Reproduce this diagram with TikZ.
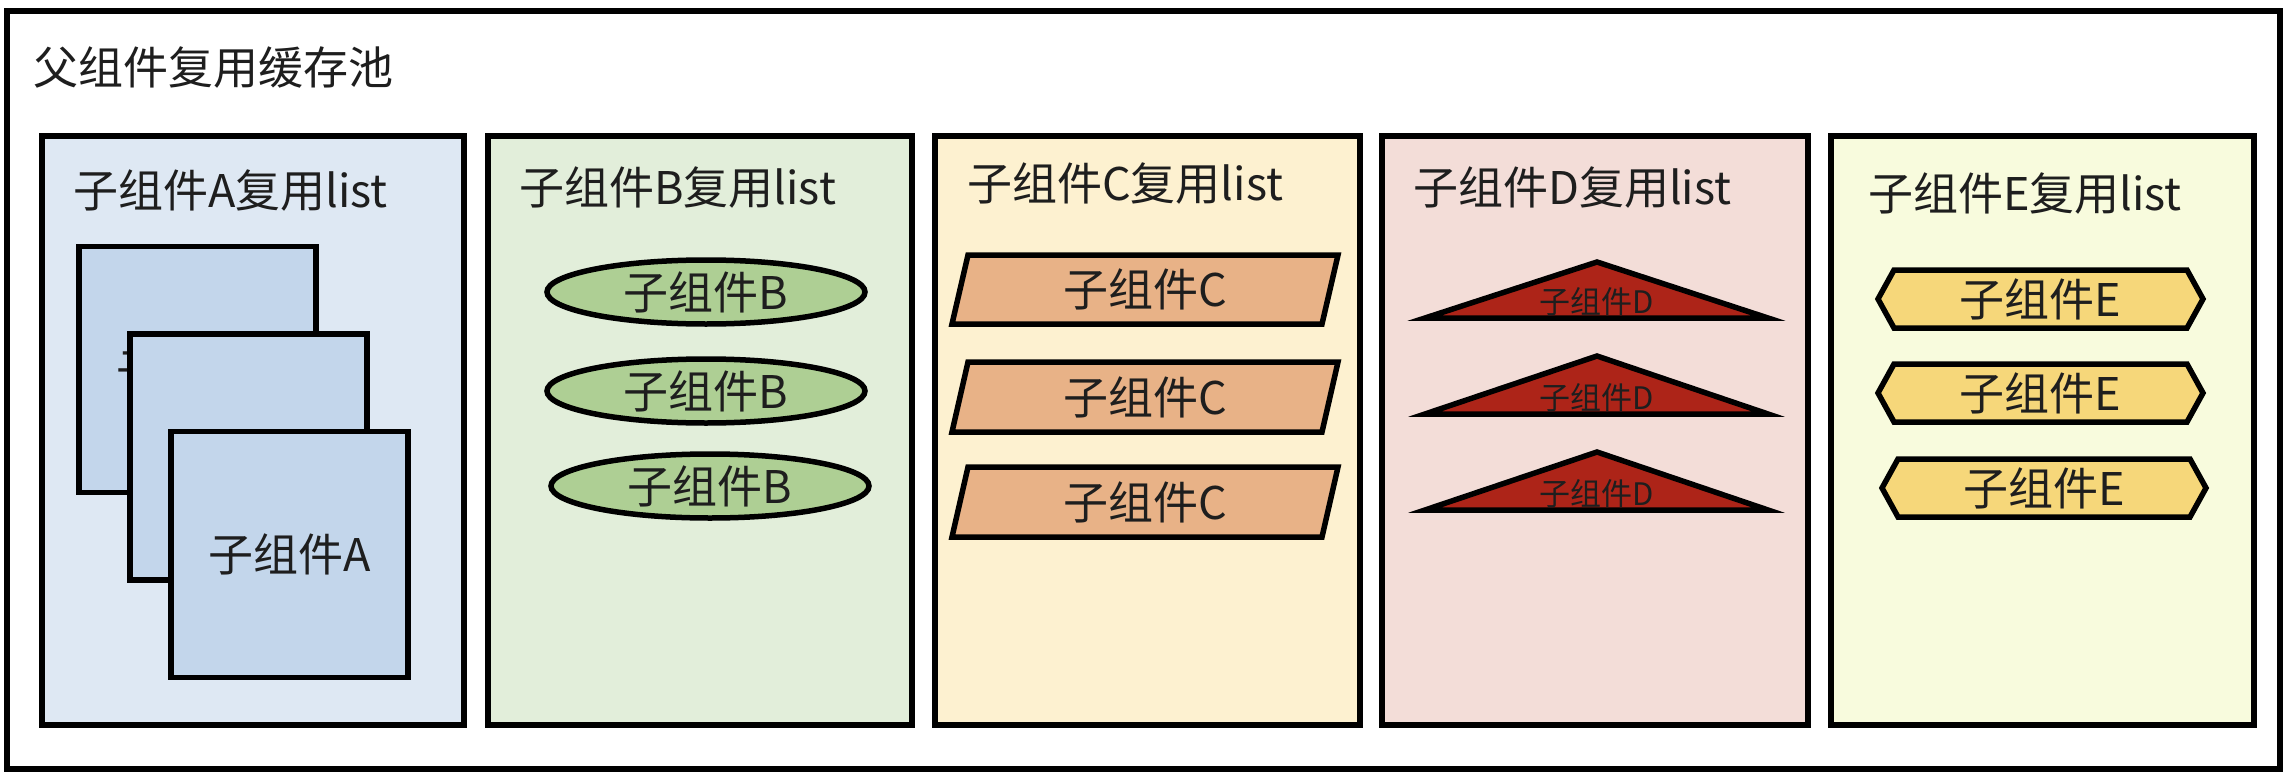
\documentclass[tikz,border=0pt]{standalone}
\usepackage{fontspec}
\setmainfont{Noto Sans CJK SC}
\usetikzlibrary{shapes.geometric}
\definecolor{txt}{HTML}{1E1E1E}
\definecolor{pA}{HTML}{DEE8F3}
\definecolor{pB}{HTML}{E2EEDA}
\definecolor{pC}{HTML}{FDF1D0}
\definecolor{pD}{HTML}{F3DDD8}
\definecolor{pE}{HTML}{F8FBDD}
\definecolor{fA}{HTML}{C3D6EB}
\definecolor{fB}{HTML}{AECF94}
\definecolor{fC}{HTML}{E8B287}
\definecolor{fD}{HTML}{AD2418}
\definecolor{fE}{HTML}{F6D77A}
\begin{document}
\begin{tikzpicture}[x=1pt,y=-1pt,
  frame/.style={draw=black,line width=6.5pt},
  panel/.style={draw=black,line width=6.5pt},
  item/.style={draw=black,line width=5.5pt,line join=miter},
  lbl/.style={font=\fontsize{45}{50}\selectfont,text=txt,inner sep=0pt},
  small/.style={font=\fontsize{31}{34}\selectfont,text=txt,inner sep=0pt}]
\useasboundingbox (0,0) rectangle (2286,776);
\fill[white] (0,0) rectangle (2286,776);
\draw[frame] (7,11) rectangle (2280,769);
\node[lbl,anchor=west] (title) at (33,68) {父组件复用缓存池};

% panels
\draw[panel,fill=pA] (42,136) rectangle (464,725);
\draw[panel,fill=pB] (488,136) rectangle (912,725);
\draw[panel,fill=pC] (935,136) rectangle (1360,725);
\draw[panel,fill=pD] (1382,136) rectangle (1808,725);
\draw[panel,fill=pE] (1831,136) rectangle (2254,725);

\node[lbl,anchor=west] (ta) at (73,191) {子组件A复用list};
\node[lbl,anchor=west] (tb) at (519,188) {子组件B复用list};
\node[lbl,anchor=west] (tc) at (967,184) {子组件C复用list};
\node[lbl,anchor=west] (td) at (1413,188) {子组件D复用list};
\node[lbl,anchor=west] (te) at (1868,194) {子组件E复用list};

% A squares
\node[item,fill=fA,minimum width=237,minimum height=246,lbl] (a1) at (197.5,369.5) {子组件A};
\node[item,fill=fA,minimum width=237,minimum height=246,lbl] (a2) at (248.5,457) {子组件A};
\node[item,fill=fA,minimum width=237,minimum height=246,lbl] (a3) at (289.5,554.5) {子组件A};

% B ellipses
\node[item,ellipse,fill=fB,minimum width=318,minimum height=64,lbl] (b1) at (706,292) {子组件B};
\node[item,ellipse,fill=fB,minimum width=318,minimum height=64,lbl] (b2) at (706,391) {子组件B};
\node[item,ellipse,fill=fB,minimum width=318,minimum height=64,lbl] (b3) at (710,486) {子组件B};

% C parallelograms
\draw[item,fill=fC] (952,324) -- (968,255) -- (1338,255) -- (1322,324) -- cycle;
\node[lbl] (c1) at (1145,289.5) {子组件C};
\draw[item,fill=fC] (952,432) -- (968,362) -- (1338,362) -- (1322,432) -- cycle;
\node[lbl] (c2) at (1145,397) {子组件C};
\draw[item,fill=fC] (952,537) -- (968,467) -- (1338,467) -- (1322,537) -- cycle;
\node[lbl] (c3) at (1145,502) {子组件C};

% D triangles
\draw[item,fill=fD] (1425,318) -- (1597,262) -- (1768,318) -- cycle;
\node[small] (d1) at (1597,302) {子组件D};
\draw[item,fill=fD] (1425,414) -- (1597,356) -- (1768,414) -- cycle;
\node[small] (d2) at (1597,398) {子组件D};
\draw[item,fill=fD] (1425,510) -- (1597,452) -- (1768,510) -- cycle;
\node[small] (d3) at (1597,494) {子组件D};

% E hexagons
\draw[item,fill=fE] (1878,299) -- (1894,270) -- (2187,270) -- (2203,299) -- (2187,328) -- (1894,328) -- cycle;
\node[lbl] (e1) at (2040.5,299) {子组件E};
\draw[item,fill=fE] (1878,393) -- (1894,364) -- (2187,364) -- (2203,393) -- (2187,422) -- (1894,422) -- cycle;
\node[lbl] (e2) at (2040.5,393) {子组件E};
\draw[item,fill=fE] (1882,488) -- (1898,459) -- (2190,459) -- (2206,488) -- (2190,517) -- (1898,517) -- cycle;
\node[lbl] (e3) at (2044,488) {子组件E};
\end{tikzpicture}
\end{document}
